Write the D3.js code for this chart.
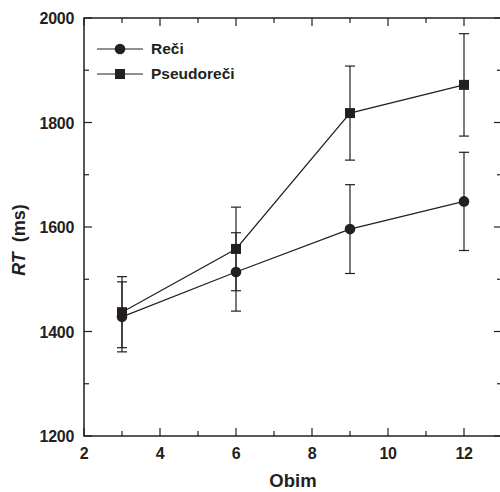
<!DOCTYPE html>
<html>
<head>
<meta charset="utf-8">
<script src="https://cdn.jsdelivr.net/npm/d3@7"></script>
<style>
  body { margin: 0; background: #fff; }
</style>
</head>
<body>
<script>
// Data
const obim = [3, 6, 9, 12];
const reci = [1428, 1514, 1596, 1649];
const reciErr = [67, 75, 85, 94];
const pseudo = [1437, 1558, 1818, 1872];
const pseudoErr = [68, 80, 90, 98];
const xTicks = [2, 4, 6, 8, 10, 12];
const yTicks = [1200, 1400, 1600, 1800, 2000];

const canvWidth = 500, canvHeight = 492;
const svg = d3.select("body").append("svg")
    .attr("width", canvWidth)
    .attr("height", canvHeight);

const margin = {top: 18, right: -2, bottom: 56, left: 84};
const width = canvWidth - margin.left - margin.right;
const height = canvHeight - margin.top - margin.bottom;

const g = svg.append("g")
    .attr("transform", "translate(" + margin.left + "," + margin.top + ")");

const xScale = d3.scaleLinear().domain([2, 13]).range([0, width]);
const yScale = d3.scaleLinear().domain([1200, 2000]).range([height, 0]);

const font = "'Liberation Sans', Arial, sans-serif";
const ink = "#231f20";

// frame
g.append("rect")
    .attr("width", width).attr("height", height)
    .attr("fill", "none").attr("stroke", ink).attr("stroke-width", 1.5);

// ticks, inward on all four sides (major + minor)
const xMinor = d3.range(3, 13, 2);
const yMinor = d3.range(1300, 2000, 200);
function xTickMarks(vals, len) {
    vals.forEach(v => {
        g.append("line").attr("x1", xScale(v)).attr("x2", xScale(v))
            .attr("y1", height).attr("y2", height - len)
            .attr("stroke", ink).attr("stroke-width", 1.2);
        g.append("line").attr("x1", xScale(v)).attr("x2", xScale(v))
            .attr("y1", 0).attr("y2", len)
            .attr("stroke", ink).attr("stroke-width", 1.2);
    });
}
function yTickMarks(vals, len) {
    vals.forEach(v => {
        g.append("line").attr("y1", yScale(v)).attr("y2", yScale(v))
            .attr("x1", 0).attr("x2", len)
            .attr("stroke", ink).attr("stroke-width", 1.2);
        g.append("line").attr("y1", yScale(v)).attr("y2", yScale(v))
            .attr("x1", width).attr("x2", width - len)
            .attr("stroke", ink).attr("stroke-width", 1.2);
    });
}
xTickMarks(xTicks.concat([13]), 8);
xTickMarks(xMinor, 5);
yTickMarks(yTicks, 8);
yTickMarks(yMinor, 5);

// tick labels
g.selectAll(".xlab").data(xTicks).enter().append("text")
    .attr("x", d => xScale(d)).attr("y", height + 23)
    .attr("text-anchor", "middle")
    .attr("font-family", font).attr("font-weight", "bold").attr("font-size", "16px")
    .attr("letter-spacing", "-0.3px")
    .attr("fill", ink)
    .text(d => d);
g.selectAll(".ylab").data(yTicks).enter().append("text")
    .attr("x", -10).attr("y", d => yScale(d) + 6)
    .attr("text-anchor", "end")
    .attr("font-family", font).attr("font-weight", "bold").attr("font-size", "16px")
    .attr("letter-spacing", "-0.3px")
    .attr("fill", ink)
    .text(d => d);

// axis titles
g.append("text")
    .attr("x", xScale(7.5)).attr("y", height + 51)
    .attr("text-anchor", "middle")
    .attr("font-family", font).attr("font-weight", "bold").attr("font-size", "18.5px")
    .attr("fill", ink)
    .text("Obim");

const yTitle = svg.append("text")
    .attr("transform", "translate(25,240) rotate(-90)")
    .attr("text-anchor", "middle")
    .attr("font-family", font).attr("font-weight", "bold").attr("font-size", "18px")
    .attr("fill", ink);
yTitle.append("tspan").attr("font-style", "italic").text("RT");
yTitle.append("tspan").text("\u00a0 (ms)");

// series
const series = [
    {name: "Reči", vals: reci, err: reciErr, shape: "circle"},
    {name: "Pseudoreči", vals: pseudo, err: pseudoErr, shape: "square"}
];

const line = d3.line()
    .x(d => xScale(d[0]))
    .y(d => yScale(d[1]));

series.forEach(s => {
    const pts = obim.map((x, i) => [x, s.vals[i], s.err[i]]);
    // error bars
    pts.forEach(p => {
        const x = xScale(p[0]);
        const top = yScale(p[1] + p[2]), bot = yScale(p[1] - p[2]);
        g.append("line").attr("x1", x).attr("x2", x).attr("y1", top).attr("y2", bot)
            .attr("stroke", ink).attr("stroke-width", 1.2);
        [top, bot].forEach(yy => g.append("line")
            .attr("x1", x - 5).attr("x2", x + 5).attr("y1", yy).attr("y2", yy)
            .attr("stroke", ink).attr("stroke-width", 1.2));
    });
    g.append("path").attr("d", line(pts))
        .attr("fill", "none").attr("stroke", ink).attr("stroke-width", 1.2);
    pts.forEach(p => drawMarker(g, s.shape, xScale(p[0]), yScale(p[1])));
});

function drawMarker(parent, shape, x, y) {
    if (shape === "circle") {
        parent.append("circle").attr("cx", x).attr("cy", y).attr("r", 5.3).attr("fill", ink);
    } else {
        parent.append("rect").attr("x", x - 5).attr("y", y - 5)
            .attr("width", 10).attr("height", 10).attr("fill", ink);
    }
}

// legend
series.forEach((s, i) => {
    const ly = 49 + i * 25;
    svg.append("line").attr("x1", 97).attr("x2", 143).attr("y1", ly).attr("y2", ly)
        .attr("stroke", ink).attr("stroke-width", 1.2);
    drawMarker(svg, s.shape, 120, ly);
    svg.append("text").attr("x", 151).attr("y", ly + 5)
        .attr("font-family", font).attr("font-weight", "bold").attr("font-size", "15.5px")
        .attr("fill", ink)
        .text(s.name);
});
</script>
</body>
</html>
